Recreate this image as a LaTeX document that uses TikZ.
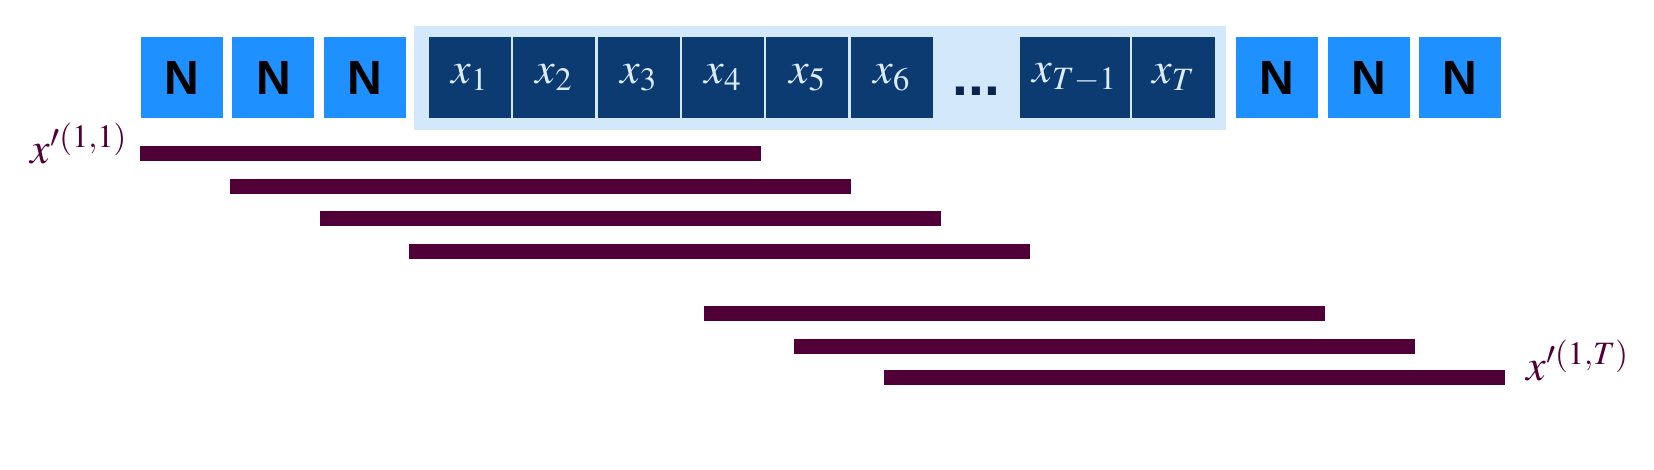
\documentclass[tikz,border=0pt]{standalone}
\usepackage{mathptmx}
\usepackage{fontspec}
\setmainfont{Liberation Serif}
\setsansfont{Liberation Sans}
\usetikzlibrary{positioning}

\definecolor{nblue}{RGB}{30,144,255}
\definecolor{navy}{RGB}{11,59,113}
\definecolor{navydark}{RGB}{9,36,78}
\definecolor{tokfg}{RGB}{222,236,250}
\definecolor{bgblue}{RGB}{212,232,252}
\definecolor{barpurple}{RGB}{80,0,54}

\tikzset{
	pad/.style={fill=nblue, minimum width=82pt, minimum height=81pt, inner sep=0pt,
		font=\sffamily\bfseries\fontsize{48}{48}\selectfont},
	tok/.style={fill=navy, text=tokfg, minimum width=82pt, minimum height=81pt, inner sep=0pt,
		font=\fontsize{44}{44}\selectfont},
	bar/.style={fill=barpurple, minimum width=621pt, minimum height=15pt, inner sep=0pt, anchor=north west},
	lbl/.style={text=barpurple, inner sep=0pt, font=\fontsize{44}{44}\selectfont}
}

\begin{document}
\begin{tikzpicture}[x=1pt,y=-1pt]
	\useasboundingbox (0,0) rectangle (1654,470);
	\fill[bgblue] (414,26) rectangle (1226,130);
	\node[pad] (n1) at (182,77.5) {N};
	\node[pad, right=9pt of n1] (n2) {N};
	\node[pad, right=9pt of n2] (n3) {N};
	\node[tok, right=22.5pt of n3] (x1) {$x_1$};
	\foreach \i [remember=\i as \j (initially 1)] in {2,...,6}
		\node[tok, right=2pt of x\j] (x\i) {$x_\i$};
	\node[minimum width=82pt, minimum height=81pt, inner sep=0pt, right=2pt of x6] (gap) {};
	\node[anchor=base, inner sep=0pt, text=navydark, font=\sffamily\bfseries\fontsize{57}{57}\selectfont]
		(dots) at ([yshift=-18.5pt]gap.center) {...};
	\node[tok, minimum width=110pt, right=2pt of gap] (xTm) {$x_{T-1}$};
	\node[tok, minimum width=83pt, right=2pt of xTm] (xT) {$x_T$};
	\node[pad, right=21pt of xT] (m1) {N};
	\node[pad, right=9pt of m1] (m2) {N};
	\node[pad, right=9pt of m2] (m3) {N};
	\foreach \i/\x/\y in {1/140/146, 2/230/178.5, 3/320/211, 4/409/244, 5/704/306, 6/794/339, 7/884/370}
		\node[bar] (bar\i) at (\x,\y) {};
	\node[lbl, anchor=base east, xshift=-13pt, yshift=-2.5pt] (lab1) at (bar1.south west) {$x'^{(1,1)}$};
	\node[lbl, anchor=base west, xshift=21pt, yshift=5pt] (labT) at (bar7.south east) {$x'^{(1,T)}$};
\end{tikzpicture}
\end{document}
